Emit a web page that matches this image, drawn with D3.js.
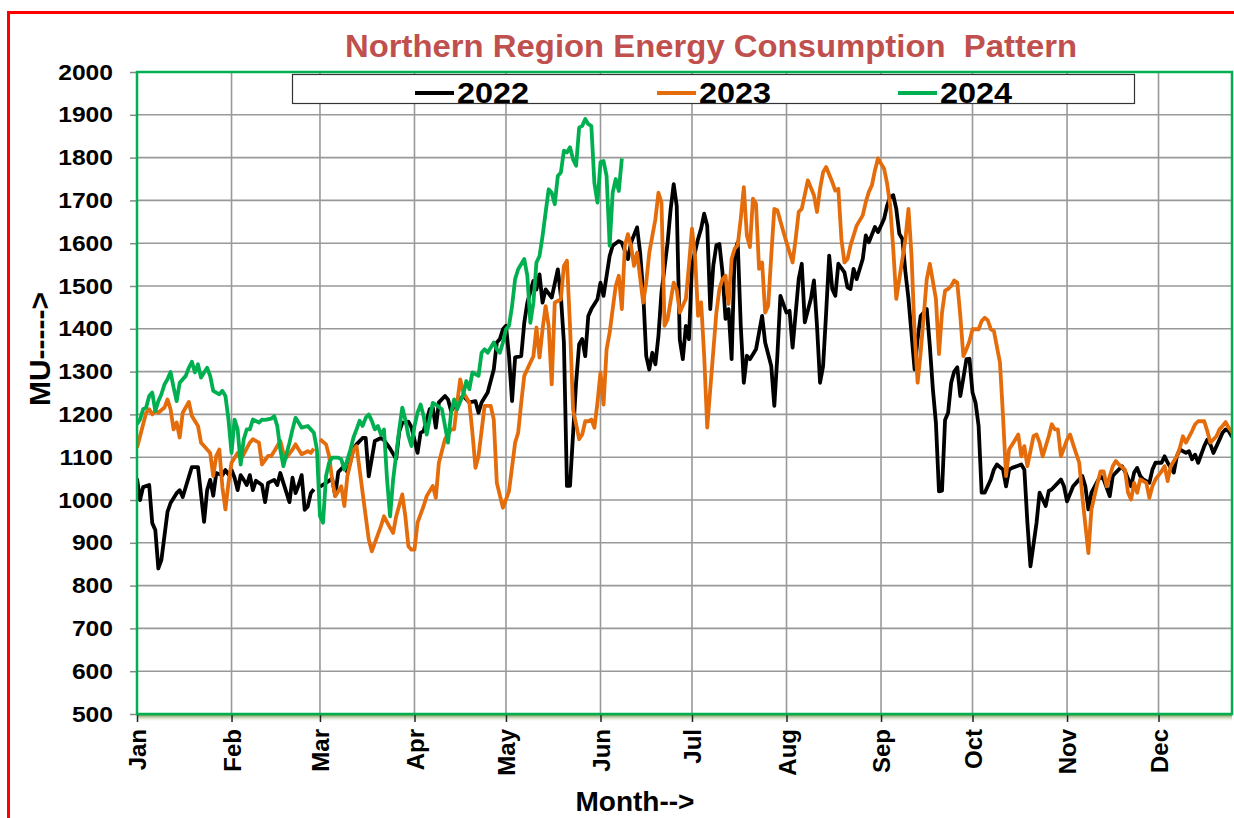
<!DOCTYPE html>
<html>
<head>
<meta charset="utf-8">
<script src="https://cdn.jsdelivr.net/npm/d3@7"></script>
<style>
  body { margin: 0; background: #fff; }
  text { font-family: "Liberation Sans", Arial, sans-serif; font-weight: bold; }
</style>
</head>
<body>
<svg id="chart" width="1234" height="818"></svg>
<script>
// day index counted on a leap-year calendar (Feb 29 = day 59, empty for 2022 / 2023)
var mu2022 = [[0,1050],[1,1000],[2,1030],[4,1035],[5,946],[6,930],[7,840],[8,860],[10,972],[11,993],[13,1016],[14,1023],[15,1007],[17,1054],[18,1077],[20,1077],[22,949],[23,1023],[24,1047],[25,1010],[26,1063],[28,1058],[29,1070],[30,1060],[31,1070],[32,1052],[33,1023],[34,1058],[35,1047],[36,1035],[37,1058],[38,1023],[39,1045],[41,1035],[42,995],[43,1040],[45,1047],[46,1035],[47,1063],[48,1040],[50,995],[51,1052],[52,1016],[53,1035],[54,1058],[55,977],[56,985],[57,1016],[58,1025],[59,null],
  [60,1031],[62,1040],[64,1050],[65,1010],[66,1065],[68,1080],[69,1065],[70,1090],[71,1120],[72,1130],[74,1145],[75,1145],[76,1055],[78,1138],[80,1145],[81,1140],[83,1120],[85,1096],[86,1160],[87,1180],[89,1183],[90,1170],[92,1110],[93,1157],[94,1161],[96,1212],[97,1216],[98,1169],[99,1228],[101,1243],[102,1235],[103,1208],[105,1228],[107,1243],[109,1228],[111,1231],[112,1204],[113,1228],[115,1251],[117,1305],[118,1368],[119,1376],[120,1399],[121,1407],[122,1336],[123,1231],[124,1333],[126,1336],[127,1414],[128,1461],[130,1512],[131,1492],[132,1527],[133,1461],[134,1492],[136,1473],[138,1539],[139,1477],[140,1368],[141,1033],[142,1033],[144,1274],[145,1364],[146,1376],[147,1336],[148,1430],[149,1446],[151,1469],[152,1508],[153,1477],[155,1570],[156,1594],[158,1605],[159,1601],[161,1563],[162,1601],[164,1637],[165,1578],[166,1485],[167,1336],[168,1305],[169,1344],[170,1317],[171,1383],[172,1485],[174,1601],[175,1679],[176,1738],[177,1687],[178,1375],[179,1329],[180,1407],[181,1376],
  [182,1548],[184,1610],[185,1634],[186,1669],[187,1641],[188,1446],[189,1548],[190,1595],[191,1598],[192,1532],[193,1423],[194,1446],[195,1329],[196,1579],[197,1602],[198,1407],[199,1274],[200,1337],[201,1329],[203,1352],[205,1430],[206,1368],[208,1313],[209,1220],[210,1337],[211,1477],[213,1438],[214,1442],[215,1356],[217,1516],[218,1552],[219,1415],[221,1470],[222,1513],[223,1407],[224,1274],[225,1313],[226,1438],[227,1571],[228,1493],[229,1477],[230,1552],[232,1532],[233,1497],[234,1493],[235,1540],[236,1516],[238,1563],[239,1618],[240,1602],[242,1638],[243,1626],[244,1641],[245,1657],[246,1688],[247,1708],[248,1712],[249,1680],[250,1622],[251,1610],[252,1532],[253,1470],[255,1305],[256,1376],[257,1430],[259,1446],[260,1360],[261,1259],[262,1180],[263,1020],[264,1022],[265,1187],[266,1204],[267,1274],[268,1300],[269,1310],[270,1243],[271,1285],[272,1329],[273,1330],[274,1251],[275,1227],[276,1173],[277,1017],[278,1017],[280,1048],[281,1071],[282,1083],[284,1071],[285,1032],[286,1071],[287,1075],[290,1083],[291,1071],[292,947],[293,845],[295,947],[296,1017],[298,986],[299,1021],[300,1025],[302,1040],[303,1048],[304,1032],[305,997],[307,1032],[308,1040],[310,1056],[311,1032],[312,978],[313,1017],[315,1044],[316,1056],[317,1048],[319,1009],[320,1056],[321,1064],[323,1079],[324,1067],[326,1032],[327,1064],[328,1075],[329,1056],[330,1048],[332,1040],[333,1071],[334,1087],[336,1087],[337,1102],[338,1087],[340,1064],[341,1102],[342,1118],[344,1110],[345,1114],[346,1095],[347,1106],[348,1087],[350,1126],[351,1141],[352,1130],[353,1110],[355,1141],[356,1157],[357,1165],[358,1161],[359,1149],[361,1160],[363,1170],[365,1165]]

var mu2023 = [[0,1122],[1,1149],[3,1204],[4,1212],[5,1200],[6,1208],[7,1204],[9,1216],[10,1235],[11,1212],[12,1165],[13,1181],[14,1146],[15,1204],[17,1229],[18,1196],[20,1173],[21,1134],[22,1126],[24,1110],[25,1056],[26,1103],[27,1118],[28,1030],[29,978],[30,1040],[31,1087],[33,1110],[34,1095],[35,1107],[37,1134],[38,1142],[40,1134],[41,1083],[43,1103],[44,1103],[45,1114],[47,1138],[48,1110],[49,1099],[51,1118],[52,1130],[53,1118],[54,1107],[56,1114],[57,1110],[58,1120],[59,null],
  [60,1142],[62,1130],[63,1103],[64,1048],[65,1009],[67,1032],[68,986],[69,1056],[70,1087],[71,1118],[72,1126],[73,1071],[75,962],[76,908],[77,880],[78,900],[80,939],[81,962],[83,935],[84,923],[85,962],[87,1013],[88,962],[89,892],[90,884],[91,884],[92,947],[94,986],[95,1009],[97,1033],[98,1005],[99,1087],[101,1142],[103,1165],[104,1165],[105,1227],[106,1282],[107,1251],[109,1227],[110,1157],[111,1075],[112,1103],[114,1220],[116,1220],[117,1188],[118,1040],[120,982],[121,1001],[122,1021],[124,1134],[125,1157],[126,1227],[127,1290],[129,1321],[130,1336],[131,1403],[132,1333],[133,1399],[134,1453],[135,1407],[136,1270],[137,1461],[139,1469],[140,1547],[141,1559],[142,1407],[143,1212],[145,1142],[146,1153],[147,1184],[148,1184],[149,1188],[150,1169],[151,1227],[152,1298],[153,1223],[154,1352],[155,1391],[156,1446],[157,1500],[158,1524],[159,1446],[160,1594],[161,1621],[162,1594],[163,1547],[164,1578],[166,1461],[167,1508],[168,1578],[170,1656],[171,1718],[172,1695],[173,1407],[174,1422],[176,1508],[177,1492],[178,1438],[180,1470],
  [181,1548],[182,1634],[183,1571],[184,1430],[185,1462],[186,1337],[187,1169],[188,1259],[190,1438],[191,1493],[192,1516],[193,1524],[194,1458],[195,1563],[196,1587],[197,1595],[198,1657],[199,1731],[200,1618],[201,1591],[202,1704],[203,1692],[204,1540],[205,1555],[206,1438],[207,1454],[208,1571],[209,1680],[210,1677],[212,1626],[213,1602],[215,1555],[216,1610],[217,1673],[218,1680],[220,1747],[222,1712],[223,1673],[224,1727],[225,1766],[226,1778],[228,1743],[229,1723],[230,1727],[231,1610],[232,1555],[233,1563],[234,1595],[235,1618],[236,1641],[238,1665],[239,1696],[240,1720],[241,1735],[242,1770],[243,1798],[245,1774],[246,1739],[247,1688],[248,1587],[249,1470],[250,1516],[252,1610],[253,1680],[254,1571],[255,1391],[256,1274],[257,1345],[258,1430],[259,1516],[260,1552],[262,1470],[263,1341],[264,1438],[265,1489],[266,1493],[267,1500],[268,1513],[269,1508],[270,1430],[271,1336],[272,1352],[273,1371],[274,1399],[276,1399],[277,1418],[278,1426],[279,1420],[280,1399],[281,1395],[283,1321],[284,1196],[285,1056],[286,1118],[288,1141],[289,1153],[290,1102],[291,1126],[292,1079],[294,1149],[295,1153],[296,1134],[297,1102],[299,1149],[300,1177],[301,1165],[302,1165],[303,1102],[305,1141],[306,1153],[307,1130],[309,1087],[310,1009],[312,876],[313,978],[315,1040],[316,1067],[317,1067],[318,1032],[320,1079],[321,1091],[322,1083],[324,1071],[325,1017],[326,1001],[327,1040],[328,1017],[329,1048],[331,1040],[332,1005],[333,1032],[334,1048],[336,1067],[337,1079],[338,1044],[339,1079],[341,1102],[342,1122],[343,1149],[344,1134],[346,1161],[347,1177],[348,1184],[350,1184],[351,1161],[352,1134],[354,1149],[355,1165],[356,1173],[357,1182],[358,1169],[360,1150],[362,1140],[365,1150]]

var mu2024 = [[0,1177],[1,1188],[2,1212],[3,1216],[4,1243],[5,1251],[6,1208],[7,1231],[8,1247],[9,1270],[10,1282],[11,1299],[12,1263],[13,1231],[14,1274],[16,1290],[17,1309],[18,1323],[19,1298],[20,1317],[21,1286],[22,1298],[23,1309],[24,1290],[25,1255],[27,1247],[28,1255],[29,1243],[30,1188],[31,1110],[32,1188],[33,1165],[34,1083],[35,1142],[36,1165],[37,1165],[38,1188],[40,1181],[41,1188],[42,1187],[44,1190],[45,1196],[46,1173],[47,1118],[48,1079],[50,1134],[51,1165],[52,1192],[53,1181],[54,1169],[56,1173],[57,1165],[58,1157],[59,1118],[60,962],[61,947],[62,1056],[63,1087],[64,1099],[66,1099],[67,1095],[68,1071],[70,1118],[71,1146],[72,1165],[73,1185],[74,1173],[75,1192],[76,1200],[77,1185],[78,1165],[79,1173],[80,1153],[81,1165],[82,1048],[83,962],[84,1048],[86,1165],[87,1216],[88,1188],[89,1150],[90,1126],[91,1173],[92,1204],[93,1223],[94,1196],[95,1153],[97,1227],[98,1223],[100,1212],[101,1173],[102,1134],[103,1204],[104,1235],[105,1212],[107,1247],[108,1278],[109,1259],[110,1298],[112,1290],[113,1344],[114,1352],[115,1344],[117,1368],[118,1352],[119,1344],[120,1368],[121,1399],[122,1407],[123,1453],[124,1516],[125,1539],[127,1563],[128,1524],[129,1414],[130,1461],[131,1555],[132,1570],[133,1617],[134,1672],[135,1726],[136,1718],[137,1691],[138,1757],[139,1765],[140,1816],[141,1812],[142,1824],[143,1796],[144,1781],[145,1870],[146,1874],[147,1890],[148,1878],[149,1874],[150,1740],[151,1695],[152,1789],[153,1792],[154,1757],[155,1594],[156,1718],[157,1750],[158,1722],[159,1798]]

var series = [
  {name: '2022', color: '#000000', values: mu2022},
  {name: '2023', color: '#e46c0a', values: mu2023},
  {name: '2024', color: '#00b050', values: mu2024}
]
var yTicks = d3.range(500, 2001, 100)
var legendX = [415, 657, 898]

var plotL = 137, plotR = 1232, plotT = 72, plotB = 714
var start = new Date(2024, 0, 1)
function dayDate(d) { return d3.timeDay.offset(start, d) }

var x = d3.scaleTime().domain([start, new Date(2024, 11, 31)]).range([plotL, 1250])
var y = d3.scaleLinear().domain([500, 2000]).range([plotB, plotT])

var svg = d3.select('#chart')

// stretch helper: text in the picture is slightly wider than the font
function widen(sel, k) {
  sel.each(function() {
    var w = this.getComputedTextLength()
    d3.select(this).attr('textLength', w * k).attr('lengthAdjust', 'spacingAndGlyphs')
  })
}

svg.append('rect').attr('x', 8.5).attr('y', 12.5).attr('width', 1400).attr('height', 1000)
  .attr('fill', 'none').attr('stroke', '#ff0000').attr('stroke-width', 3)

var defs = svg.append('defs')
defs.append('clipPath').attr('id', 'plotclip').append('rect')
  .attr('x', plotL).attr('y', plotT).attr('width', plotR - plotL).attr('height', plotB - plotT)
var grad = defs.append('linearGradient').attr('id', 'shadow').attr('x1', 0).attr('x2', 0).attr('y1', 0).attr('y2', 1)
grad.append('stop').attr('offset', 0).attr('stop-color', '#4d7a1c')
grad.append('stop').attr('offset', 1).attr('stop-color', '#ffffff').attr('stop-opacity', 0)

// grid
var grid = svg.append('g')
grid.selectAll('.hg').data(yTicks).enter().append('line')
  .attr('x1', plotL).attr('x2', plotR)
  .attr('y1', function(d){ return y(d) }).attr('y2', function(d){ return y(d) })
  .attr('stroke', '#999').attr('stroke-width', 1.6)
var monthTicks = d3.timeMonth.range(start, new Date(2024, 11, 31))
grid.selectAll('.vg').data(monthTicks).enter().append('line')
  .attr('x1', function(d){ return x(d) }).attr('x2', function(d){ return x(d) })
  .attr('y1', plotT).attr('y2', plotB)
  .attr('stroke', '#999').attr('stroke-width', 1.6)

// bottom shadow
svg.append('rect').attr('x', plotL).attr('y', plotB).attr('width', plotR - plotL).attr('height', 8).attr('fill', 'url(#shadow)')

// axes
var yAxis = svg.append('g').attr('transform', 'translate(' + plotL + ',0)')
  .call(d3.axisLeft(y).tickValues(yTicks).tickFormat(d3.format('d')).tickSize(7).tickPadding(17))
yAxis.select('.domain').remove()
yAxis.selectAll('line').attr('stroke', '#888').attr('stroke-width', 1.5)
yAxis.selectAll('text').attr('font-size', 22).attr('fill', '#000')
  .attr('font-family', '"Liberation Sans", Arial, sans-serif').attr('font-weight', 'bold')
widen(yAxis.selectAll('text'), 1.12)

var xAxis = svg.append('g').attr('transform', 'translate(0,' + plotB + ')')
  .call(d3.axisBottom(x).tickValues(monthTicks).tickFormat(d3.timeFormat('%b')).tickSize(8))
xAxis.select('.domain').remove()
xAxis.selectAll('line').attr('stroke', '#222').attr('stroke-width', 1.5)
xAxis.selectAll('text')
  .attr('font-size', 24).attr('fill', '#000')
  .attr('font-family', '"Liberation Sans", Arial, sans-serif').attr('font-weight', 'bold')
  .attr('text-anchor', 'end').attr('transform', 'rotate(-90)')
  .attr('x', -15).attr('y', 0).attr('dy', '0.36em')

// lines
var line = d3.line()
  .defined(function(d){ return d[1] != null })
  .x(function(d){ return x(dayDate(d[0])) })
  .y(function(d){ return y(d[1]) })

svg.append('g').attr('clip-path', 'url(#plotclip)')
  .selectAll('path').data(series).enter().append('path')
  .attr('d', function(s){ return line(s.values) })
  .attr('fill', 'none')
  .attr('stroke', function(s){ return s.color })
  .attr('stroke-width', 3.8)
  .attr('stroke-linejoin', 'round')

// plot border
svg.append('rect').attr('x', plotL).attr('y', plotT).attr('width', plotR - plotL).attr('height', plotB - plotT)
  .attr('fill', 'none').attr('stroke', '#00b050').attr('stroke-width', 2.5)

// legend
svg.append('rect').attr('x', 292.5).attr('y', 74.5).attr('width', 842).attr('height', 29)
  .attr('fill', '#fff').attr('stroke', '#333').attr('stroke-width', 1.2)
var leg = svg.append('g').selectAll('g').data(series).enter().append('g')
  .attr('transform', function(s, i){ return 'translate(' + legendX[i] + ',0)' })
leg.append('line').attr('x1', 0).attr('x2', 39).attr('y1', 93).attr('y2', 93)
  .attr('stroke', function(s){ return s.color }).attr('stroke-width', 4)
var legText = leg.append('text').attr('x', 42).attr('y', 103).attr('font-size', 30).attr('fill', '#000')
  .text(function(s){ return s.name })
widen(legText, 1.08)

// titles
var title = svg.append('text').attr('x', 711).attr('y', 57).attr('text-anchor', 'middle')
  .attr('font-size', 31).attr('fill', '#c0504d').style('white-space', 'pre')
  .text('Northern Region Energy Consumption  Pattern')
widen(title, 1.06)

svg.append('text').attr('x', 635).attr('y', 811).attr('text-anchor', 'middle')
  .attr('font-size', 28).attr('fill', '#000').text('Month-->')

svg.append('text').attr('transform', 'translate(50,349) rotate(-90)').attr('text-anchor', 'middle')
  .attr('font-size', 30).attr('fill', '#000').text('MU----->')
</script>
</body>
</html>
